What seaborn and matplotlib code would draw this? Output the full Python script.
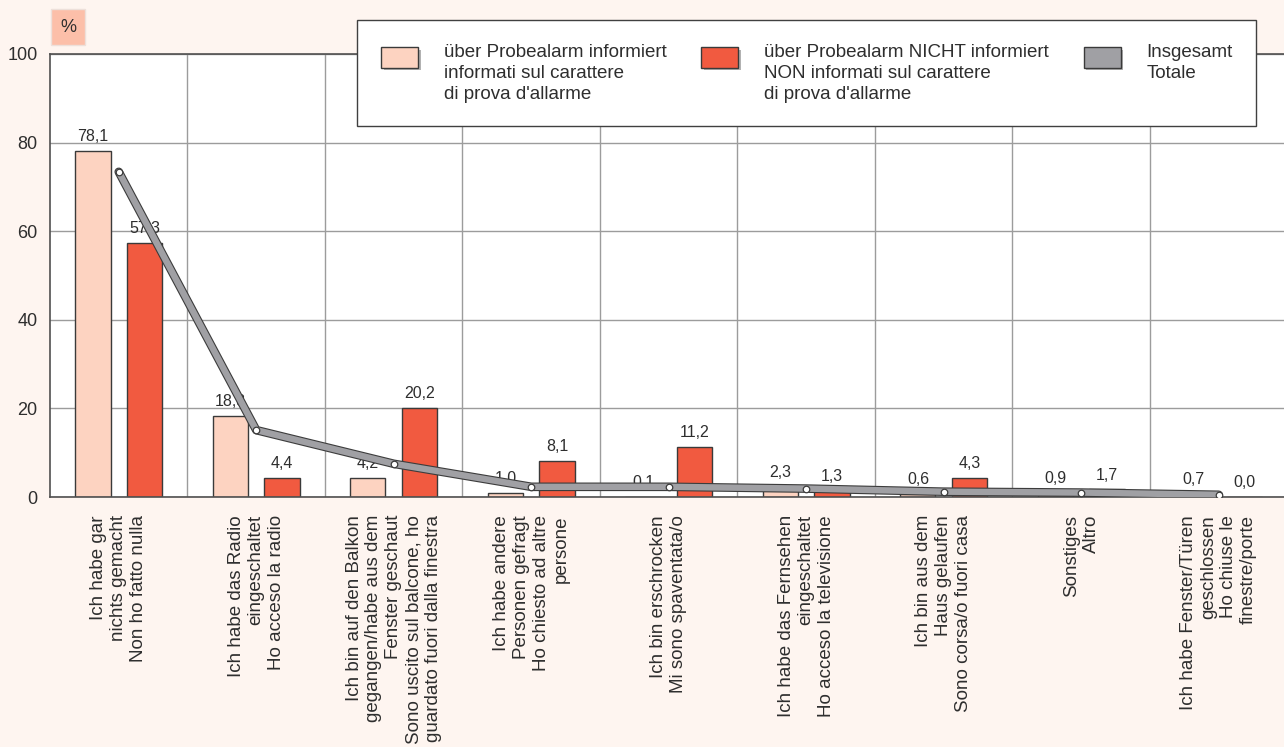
import matplotlib
matplotlib.use("Agg")
import matplotlib.pyplot as plt
import matplotlib.patheffects as pe
from matplotlib.patches import Patch, Rectangle
from matplotlib.legend_handler import HandlerPatch
import numpy as np
import pandas as pd
import seaborn as sns

sns.set_theme(style="white")
plt.rcParams["font.family"] = ["Liberation Sans", "DejaVu Sans"]

# Daten
labels_de = [
    "Ich habe gar\nnichts gemacht",
    "Ich habe das Radio\neingeschaltet",
    "Ich bin auf den Balkon\ngegangen/habe aus dem\nFenster geschaut",
    "Ich habe andere\nPersonen gefragt",
    "Ich bin erschrocken",
    "Ich habe das Fernsehen\neingeschaltet",
    "Ich bin aus dem\nHaus gelaufen",
    "Sonstiges",
    "Ich habe Fenster/Türen\ngeschlossen",
]
labels_it = [
    "Non ho fatto nulla",
    "Ho acceso la radio",
    "Sono uscito sul balcone, ho\nguardato fuori dalla finestra",
    "Ho chiesto ad altre\npersone",
    "Mi sono spaventata/o",
    "Ho acceso la televisione",
    "Sono corsa/o fuori casa",
    "Altro",
    "Ho chiuse le\nfinestre/porte",
]
informiert = [78.1, 18.3, 4.2, 1.0, 0.1, 2.3, 0.6, 0.9, 0.7]
nicht_informiert = [57.3, 4.4, 20.2, 8.1, 11.2, 1.3, 4.3, 1.7, 0.0]
insgesamt = [73.4, 15.1, 7.5, 2.3, 2.3, 1.9, 1.2, 1.0, 0.5]

leg_informiert = "über Probealarm informiert\ninformati sul carattere\ndi prova d'allarme"
leg_nicht = "über Probealarm NICHT informiert\nNON informati sul carattere\ndi prova d'allarme"
leg_total = "Insgesamt\nTotale\n "

c_pale = "#FDD3C1"
c_red = "#F15A40"
c_gray = "#A0A0A4"
c_edge = "#3A3A3A"
c_text = "#2E2E2E"

n = len(informiert)
df = pd.DataFrame({
    "cat": list(range(n)) * 2,
    "grp": ["inf"] * n + ["non"] * n,
    "val": informiert + nicht_informiert,
})

fig = plt.figure(figsize=(12.84, 7.47), dpi=100, facecolor="#FEF5F0")
ax = fig.add_axes([50 / 1284, 1 - 497 / 747, 1237.5 / 1284, 443 / 747])
ax.set_facecolor("white")

sns.barplot(data=df, x="cat", y="val", hue="grp", hue_order=["inf", "non"],
            palette=[c_pale, c_red], width=0.75, gap=0.32, edgecolor=c_edge,
            linewidth=1.0, saturation=1, legend=False, ax=ax, zorder=2)

for cont, vals in zip(ax.containers, [informiert, nicht_informiert]):
    ax.bar_label(cont, labels=[f"{v:.1f}".replace(".", ",") for v in vals],
                 padding=5, fontsize=11.5, color=c_text, zorder=3)

# Gesamtlinie
x = np.arange(n)
sns.lineplot(x=x, y=insgesamt, ax=ax, color=c_gray, linewidth=4.6, zorder=5,
             solid_capstyle="round", solid_joinstyle="round",
             path_effects=[pe.Stroke(linewidth=6.2, foreground="#3C3C3C"), pe.Normal()])
ax.scatter(x, insgesamt, s=22, facecolor="white", edgecolor="#3C3C3C",
           linewidth=0.9, zorder=6)

ax.set_xlim(-0.5, n - 0.5)
ax.set_ylim(0, 100)
ax.set_yticks([0, 20, 40, 60, 80, 100])
ax.set_xlabel("")
ax.set_ylabel("")

ax.set_xticks(x)
ax.set_xticklabels([f"{d}\n{i}" for d, i in zip(labels_de, labels_it)],
                   rotation=90, ha="center", va="top", multialignment="right",
                   fontsize=13.5, linespacing=1.22, color=c_text)
ax.set_xticks(np.arange(0.5, n - 0.5, 1.0), minor=True)
ax.tick_params(axis="x", which="both", length=0, pad=13)
ax.tick_params(axis="y", length=0, pad=9, labelsize=13, labelcolor=c_text)

ax.grid(axis="y", which="major", color="#9C9C9C", linewidth=1.0, zorder=0)
ax.grid(axis="x", which="minor", color="#9C9C9C", linewidth=1.0, zorder=0)
ax.set_axisbelow(True)
for side in ["left", "bottom", "top"]:
    ax.spines[side].set_color("#505050")
    ax.spines[side].set_linewidth(1.2)
ax.spines["right"].set_visible(False)


# Legende: Kästchen auf Höhe der ersten Textzeile
def top_patch(legend, orig_handle, xdescent, ydescent, width, height, fontsize):
    h = 1.07 * fontsize
    return Rectangle((-xdescent, -ydescent + height - h), width, h)


shadow = [pe.withSimplePatchShadow(offset=(2, -2), shadow_rgbFace="#808080", alpha=0.6)]
handles = [
    Patch(facecolor=c_pale, edgecolor=c_edge, linewidth=1, path_effects=shadow),
    Patch(facecolor=c_red, edgecolor=c_edge, linewidth=1, path_effects=shadow),
    Patch(facecolor=c_gray, edgecolor=c_edge, linewidth=1, path_effects=shadow),
]
leg = fig.legend(handles, [leg_informiert, leg_nicht, leg_total], ncol=3,
                 loc="upper left", bbox_to_anchor=(348 / 1284, 1 - 11 / 747),
                 fontsize=13.5, frameon=True, fancybox=False, borderpad=1.25,
                 handlelength=1.97, handleheight=4.1, handletextpad=1.39,
                 columnspacing=1.85, labelspacing=0.3,
                 handler_map={Patch: HandlerPatch(patch_func=top_patch)})
leg.get_frame().set_edgecolor("#404040")
leg.get_frame().set_linewidth(1.0)
leg.get_frame().set_facecolor("white")
leg.get_frame().set_alpha(1)
for t in leg.get_texts():
    t.set_color(c_text)
    t.set_linespacing(1.3)

# Einheit
fig.text(68 / 1284, 1 - 27 / 747, "%", ha="center", va="center", fontsize=13,
         color=c_text,
         bbox=dict(boxstyle="square,pad=0.5", facecolor="#FCBFA9", edgecolor="#EDE0DA"))

fig.savefig("out.png", dpi=100, facecolor=fig.get_facecolor())
